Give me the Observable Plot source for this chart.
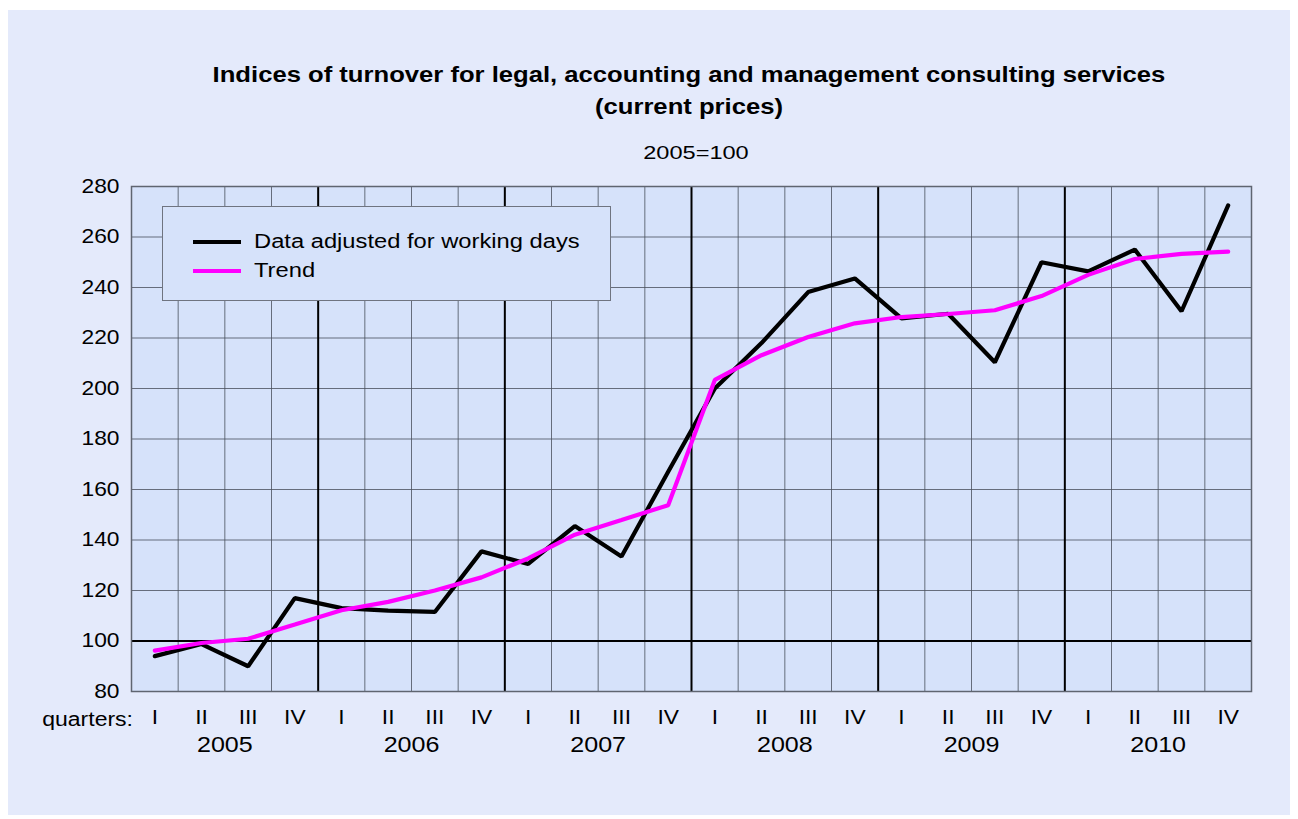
<!DOCTYPE html>
<html>
<head>
<meta charset="utf-8">
<script src="https://cdn.jsdelivr.net/npm/d3@7"></script>
<script src="https://cdn.jsdelivr.net/npm/@observablehq/plot@0.6"></script>
<style>
  html, body { margin: 0; padding: 0; background: #ffffff; }
  #wrap { position: relative; width: 1298px; height: 819px; overflow: hidden; font-family: "Liberation Sans", Arial, Helvetica, sans-serif; }
  #panel { position: absolute; left: 8px; top: 10px; width: 1282px; height: 805px; background: #e4eafb; }
  #title { position: absolute; left: 129px; top: 59px; width: 1120px; text-align: center; font-weight: bold; font-size: 22px; line-height: 32px; color: #000; transform: scaleX(1.165); transform-origin: 560px 0; }
  #subtitle { position: absolute; left: 136px; top: 141px; width: 1120px; text-align: center; font-size: 19px; line-height: 24px; color: #000; transform: scaleX(1.24); transform-origin: 560px 0; }
  #chart { position: absolute; left: 0; top: 170px; }
  #legend { position: absolute; left: 162px; top: 206px; width: 447px; height: 93px; background: #d6e2fa; border: 1px solid #6f7480; }
  .item { position: absolute; left: 30px; height: 24px; line-height: 24px; font-size: 20px; color: #000; white-space: nowrap; }
  .sw { display: inline-block; width: 48px; height: 4px; vertical-align: middle; margin-right: 13px; position: relative; top: -1px; }
  .lt { display: inline-block; transform: scaleX(1.186); transform-origin: 0 50%; }
  #qlabel { position: absolute; left: 0; width: 133px; top: 707px; text-align: right; font-size: 20px; line-height: 24px; color: #000; transform: scaleX(1.15); transform-origin: 133px 0; }
</style>
</head>
<body>
<div id="wrap">
  <div id="panel"></div>
  <div id="title">Indices of turnover for legal, accounting and management consulting services<br>(current prices)</div>
  <div id="subtitle">2005=100</div>
  <div id="chart"></div>
  <div id="legend">
    <div class="item" style="top:22px"><span class="sw" style="background:#000"></span><span class="lt">Data adjusted for working days</span></div>
    <div class="item" style="top:51px"><span class="sw" style="background:#ff00ff"></span><span class="lt">Trend</span></div>
  </div>
  <div id="qlabel">quarters:</div>
</div>
<script>
const years = [2005, 2006, 2007, 2008, 2009, 2010];
const quarterNames = ["I", "II", "III", "IV"];
const adjusted = [94, 98.8, 90, 117, 113, 112, 111.5, 135.5, 130.5, 145.5, 133.5, 167, 200, 218, 238.2, 243.6, 227.8, 229.6, 210.4, 250, 246.4, 255, 230.6, 272.5];
const trend = [96.2, 99.2, 100.9, 106.5, 112.2, 115.5, 120, 125.2, 132.7, 142.1, 147.9, 153.8, 203.4, 213.2, 220.4, 225.8, 228.3, 229.5, 231, 236.6, 245, 251.3, 253.3, 254.2];
const yTicks = [80, 100, 120, 140, 160, 180, 200, 220, 240, 260, 280];

const rows = adjusted.map((v, i) => ({
  i,
  year: years[Math.floor(i / 4)],
  quarter: quarterNames[i % 4],
  adjusted: v,
  trend: trend[i]
}));

const colBounds = d3.range(1, rows.length).map(k => k - 0.5);
const yearBounds = colBounds.filter(b => (b + 0.5) % 4 === 0);
const thinBounds = colBounds.filter(b => (b + 0.5) % 4 !== 0);
const yearCenters = years.map((y, k) => k * 4 + 1.5);

const chart = Plot.plot({
  width: 1298,
  height: 620,
  marginLeft: 131,
  marginRight: 47,
  marginTop: 16,
  marginBottom: 99,
  style: { fontFamily: "'Liberation Sans', Arial, Helvetica, sans-serif", fontSize: "20px", background: "transparent", color: "#000" },
  x: { domain: [-0.5, rows.length - 0.5] },
  y: { domain: [80, 280] },
  marks: [
    Plot.frame({ fill: "#d6e2fa", stroke: "none" }),
    Plot.ruleY(yTicks.filter(t => t !== 100), { stroke: "#4a505c", strokeWidth: 1, strokeOpacity: 0.8 }),
    Plot.ruleX(thinBounds, { stroke: "#4a505c", strokeWidth: 1, strokeOpacity: 0.8 }),
    Plot.ruleX(yearBounds, { stroke: "#000", strokeWidth: 2 }),
    Plot.ruleY([100], { stroke: "#000", strokeWidth: 2 }),
    Plot.frame({ stroke: "#5f6570", strokeWidth: 1.5 }),
    Plot.line(rows, { x: "i", y: "adjusted", stroke: "#000", strokeWidth: 4.2, strokeLinejoin: "miter" }),
    Plot.line(rows, { x: "i", y: "trend", stroke: "#ff00ff", strokeWidth: 4.2, strokeLinejoin: "miter" }),
    Plot.axisY({ ticks: yTicks, tickSize: 0, tickPadding: 12, fontSize: 20, label: null }),
    Plot.axisX({ ticks: rows.map(d => d.i), tickFormat: i => rows[i].quarter, tickSize: 0, tickPadding: 18, fontSize: 20, label: null }),
    Plot.axisX({ ticks: yearCenters, tickFormat: (c) => String(years[Math.round((c - 1.5) / 4)]), tickSize: 0, tickPadding: 45, fontSize: 22, label: null })
  ]
});

// widen the tick labels horizontally about their anchor, as in the reference rendering
chart.querySelectorAll("text").forEach(el => {
  const t = el.getAttribute("transform") || "";
  const xa = el.getAttribute("x");
  const ax = xa && /^-?[\d.]+$/.test(xa.trim()) ? +xa : 0;
  el.setAttribute("transform", `${t} translate(${ax},0) scale(1.14,1) translate(${-ax},0)`);
});

document.getElementById("chart").appendChild(chart);
</script>
</body>
</html>
